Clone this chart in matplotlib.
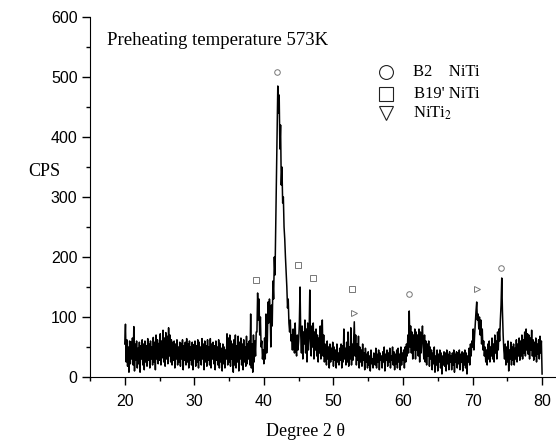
#!/usr/bin/env python3
"""XRD pattern, preheating temperature 573K."""

import numpy as np
import matplotlib
matplotlib.use("Agg")
import matplotlib.pyplot as plt
from matplotlib.ticker import MultipleLocator

plt.rcParams["mathtext.fontset"] = "stix"

SERIF = "Liberation Serif"
SANS = "Liberation Sans"

# 2-theta from 20.0 to 80.0, step 0.1 deg ; counts
TWO_THETA_START, TWO_THETA_STEP = 20.0, 0.1
cps = [
    55, 88, 25, 62, 18, 50, 8, 60, 22, 58,        # 20
    30, 65, 20, 84, 10, 55, 28, 60, 15, 48,       # 21
    22, 58, 8, 52, 30, 62, 20, 55, 12, 60,        # 22
    25, 52, 18, 64, 28, 55, 15, 60, 30, 50,       # 23
    20, 66, 25, 58, 12, 70, 30, 62, 22, 56,       # 24
    28, 72, 20, 60, 32, 78, 25, 65, 18, 74,       # 25
    30, 68, 22, 82, 35, 70, 25, 62, 20, 58,       # 26
    28, 60, 15, 55, 30, 62, 20, 50, 25, 58,       # 27
    18, 56, 30, 62, 12, 52, 28, 58, 20, 64,       # 28
    25, 55, 15, 60, 28, 50, 20, 58, 12, 54,       # 29
    30, 60, 18, 52, 25, 62, 15, 58, 28, 50,       # 30
    20, 64, 30, 55, 12, 60, 25, 52, 18, 62,       # 31
    28, 50, 20, 64, 15, 55, 30, 58, 22, 52,       # 32
    12, 60, 28, 50, 20, 62, 15, 56, 25, 48,       # 33
    10, 55, 22, 50, 15, 45, 30, 72, 20, 65,       # 34
    25, 70, 18, 60, 30, 55, 8, 62, 20, 70,        # 35
    15, 52, 25, 68, 10, 58, 30, 65, 20, 55,       # 36
    12, 62, 25, 50, 18, 68, 22, 55, 30, 60,       # 37
    20, 105, 15, 55, 8, 70, 25, 60, 35, 75,       # 38
    75, 140, 95, 130, 70, 100, 50, 60, 30, 45,    # 39
    22, 65, 30, 105, 40, 60, 125, 90, 130, 110,   # 40
    50, 120, 85, 160, 130, 200, 170, 250, 330, 400,  # 41
    485, 440, 470, 380, 420, 320, 350, 290, 300, 250,  # 42
    230, 200, 175, 150, 115, 130, 90, 75, 95, 60,   # 43
    70, 45, 80, 55, 40, 90, 50, 35, 70, 45,       # 44
    60, 90, 150, 70, 40, 85, 30, 75, 55, 95,      # 45
    40, 80, 25, 90, 45, 70, 145, 60, 35, 85,      # 46
    50, 90, 30, 75, 45, 80, 35, 70, 25, 65,       # 47
    40, 85, 30, 60, 95, 35, 70, 25, 55, 40,       # 48
    20, 60, 30, 50, 15, 55, 25, 48, 30, 58,       # 49
    18, 50, 28, 45, 15, 55, 25, 40, 20, 48,       # 50
    28, 55, 15, 52, 25, 80, 30, 48, 20, 58,       # 51
    25, 75, 18, 50, 30, 82, 20, 55, 28, 60,       # 52
    92, 35, 70, 20, 55, 28, 68, 15, 50, 25,       # 53
    45, 18, 55, 28, 40, 12, 48, 25, 38, 15,       # 54
    42, 20, 35, 10, 45, 22, 30, 15, 40, 25,       # 55
    20, 48, 15, 38, 25, 45, 12, 40, 28, 35,       # 56
    15, 42, 25, 50, 10, 38, 28, 45, 18, 40,       # 57
    25, 48, 15, 35, 28, 50, 20, 42, 12, 38,       # 58
    22, 45, 15, 48, 25, 38, 12, 50, 20, 40,       # 59
    28, 45, 15, 50, 25, 55, 35, 70, 40, 110,      # 60
    50, 85, 40, 75, 30, 70, 45, 80, 30, 75,       # 61
    45, 70, 35, 80, 25, 75, 40, 65, 85, 50,       # 62
    30, 70, 25, 60, 20, 55, 35, 60, 18, 50,       # 63
    30, 45, 12, 40, 22, 50, 8, 35, 20, 45,        # 64
    10, 38, 25, 45, 15, 40, 5, 35, 20, 42,        # 65
    18, 40, 10, 45, 22, 38, 12, 42, 25, 35,       # 66
    12, 40, 20, 45, 8, 38, 25, 42, 15, 40,        # 67
    22, 45, 12, 38, 25, 42, 10, 40, 20, 45,       # 68
    15, 40, 5, 35, 25, 48, 20, 55, 35, 60,        # 69
    50, 80, 45, 70, 90, 110, 125, 95, 105, 80,    # 70
    100, 70, 95, 55, 80, 45, 60, 35, 50, 25,      # 71
    45, 20, 55, 30, 60, 25, 50, 35, 65, 30,       # 72
    55, 25, 70, 40, 60, 30, 75, 45, 80, 60,       # 73
    95, 120, 165, 110, 70, 45, 30, 55, 20, 50,    # 74
    25, 60, 10, 45, 30, 58, 20, 50, 28, 55,       # 75
    20, 48, 30, 62, 25, 55, 35, 65, 28, 60,       # 76
    35, 70, 30, 62, 40, 75, 35, 80, 45, 72,       # 77
    38, 70, 30, 65, 45, 78, 35, 62, 28, 58,       # 78
    35, 65, 25, 55, 38, 62, 30, 68, 40, 60,       # 79
    5,                                            # 80
]

# phase marks above the peaks: (2theta, cps)
b2_marks = [(41.9, 508), (60.9, 138), (74.15, 181)]
b19_marks = [(38.85, 162), (44.9, 187), (47.05, 165), (52.6, 146)]
niti2_marks = [(52.95, 107), (70.6, 147)]

legend_labels = ["B2    NiTi", "B19' NiTi", "NiTi$_2$"]
title = "Preheating temperature 573K"


def main():
    y = np.array(cps, dtype=float)
    x = TWO_THETA_START + TWO_THETA_STEP * np.arange(len(y))

    fig = plt.figure(figsize=(5.56, 4.43), dpi=100)
    ax = fig.add_axes([90 / 556, 1 - 377 / 443, (556 - 90) / 556, (377 - 17) / 443])

    ax.plot(x, y, color="black", lw=1.1)

    mk = dict(ls="none", mfc="none", mec="#777777", mew=0.7)
    ax.plot(*zip(*b2_marks), marker="o", ms=4, **mk)
    ax.plot(*zip(*b19_marks), marker="s", ms=4, **mk)
    ax.plot(*zip(*niti2_marks), marker=">", ms=4, **mk)

    # hand-made legend
    lmk = dict(ls="none", mfc="none", mec="#222222", mew=0.8, ms=10, clip_on=False)
    for (marker, ly, label, lx) in [("o", 508, legend_labels[0], 61.5),
                                    ("s", 472, legend_labels[1], 61.6),
                                    ("v", 440, legend_labels[2], 61.5)]:
        ax.plot([57.6], [ly], marker=marker, **lmk)
        ax.text(lx, ly, label, family=SERIF, fontsize=12, va="center", ha="left")

    ax.text(17.5, 560, title, family=SERIF, fontsize=13.5, va="center", ha="left")

    ax.set_xlim(15, 82)
    ax.set_ylim(0, 600)
    ax.xaxis.set_major_locator(MultipleLocator(10))
    ax.xaxis.set_minor_locator(MultipleLocator(5))
    ax.yaxis.set_major_locator(MultipleLocator(100))
    ax.yaxis.set_minor_locator(MultipleLocator(50))
    ax.set_xticks(range(20, 81, 10))
    for s in ("top", "right"):
        ax.spines[s].set_visible(False)
    ax.tick_params(which="major", length=6, width=1, labelsize=11.5, pad=3)
    ax.tick_params(axis="x", which="major", pad=6)
    ax.tick_params(which="minor", length=3, width=1)
    for lbl in ax.get_xticklabels() + ax.get_yticklabels():
        lbl.set_family(SANS)

    fig.text(44 / 556, 1 - 172 / 443, "CPS", family=SERIF, fontsize=13,
             ha="center", va="center")
    fig.text(305 / 556, 1 - 432 / 443, "Degree 2 \u03b8", family=SERIF, fontsize=13,
             ha="center", va="center")

    fig.savefig("out.png", dpi=100)
    plt.close(fig)


if __name__ == "__main__":
    main()
